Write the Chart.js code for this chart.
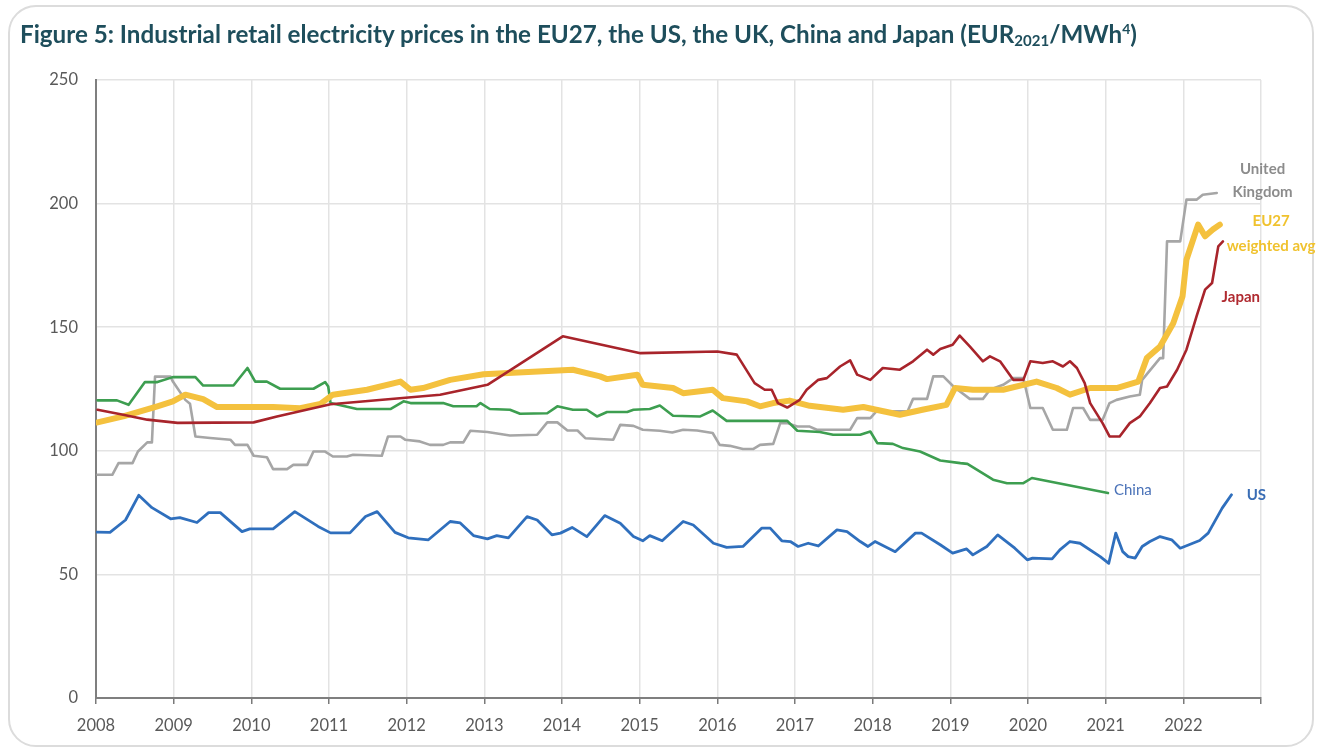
<!DOCTYPE html>
<html>
<head>
<meta charset="utf-8">
<script src="https://cdn.jsdelivr.net/npm/chart.js@4"></script>
<style>
  html, body { margin: 0; padding: 0; background: #fff; }
  body { width: 1319px; height: 752px; position: relative; overflow: hidden; font-family: Lato, "Noto Sans", sans-serif; }
  #card { position: absolute; left: 8px; top: 5px; width: 1306px; height: 742px; border: 2px solid #dcdcdc; border-radius: 28px; box-sizing: border-box; }
  #title { position: absolute; left: 20px; top: 22px; font-size: 24.2px; line-height: 24px; font-weight: 700; color: #1e4e5c; white-space: nowrap; }
  #title sub { font-size: 15px; vertical-align: -3px; line-height: 0; }
  #title sup { font-size: 14px; vertical-align: 9px; line-height: 0; }
  #wrap { position: absolute; left: 0; top: 0; width: 1319px; height: 752px; }
</style>
</head>
<body>
<div id="card"></div>
<div id="wrap"><canvas id="priceChart" width="1319" height="752"></canvas></div>
<div id="title">Figure 5: Industrial retail electricity prices in the EU27, the US, the UK, China and Japan (EUR<sub>2021</sub>/MWh<sup>4</sup>)</div>
<script>
// values, as [year, EUR/MWh]
const yearTicks = [2008, 2009, 2010, 2011, 2012, 2013, 2014, 2015, 2016, 2017, 2018, 2019, 2020, 2021, 2022];

const usPoints = [
  [2008.01, 67.1], [2008.18, 67], [2008.38, 72], [2008.55, 82], [2008.72, 77], [2008.96, 72.5],
  [2009.08, 73], [2009.30, 71], [2009.45, 75], [2009.60, 75], [2009.88, 67.3], [2009.98, 68.4],
  [2010.28, 68.4], [2010.56, 75.4], [2010.86, 69.4], [2011.02, 66.8], [2011.27, 66.8], [2011.47, 73.4],
  [2011.62, 75.4], [2011.85, 67], [2012.02, 64.8], [2012.28, 64], [2012.56, 71.4], [2012.69, 70.8],
  [2012.86, 65.7], [2013.04, 64.4], [2013.16, 65.7], [2013.31, 64.8], [2013.55, 73.4], [2013.68, 72],
  [2013.87, 66], [2013.98, 66.7], [2014.13, 69], [2014.32, 65.3], [2014.55, 73.8], [2014.75, 70.7],
  [2014.92, 65.3], [2015.04, 63.6], [2015.13, 65.7], [2015.29, 63.6], [2015.56, 71.4], [2015.69, 70],
  [2015.95, 62.6], [2016.12, 60.9], [2016.33, 61.3], [2016.57, 68.7], [2016.68, 68.7], [2016.83, 63.6],
  [2016.94, 63.3], [2017.04, 61.3], [2017.17, 62.6], [2017.30, 61.5], [2017.54, 68], [2017.67, 67.3],
  [2017.84, 63.3], [2017.94, 61.3], [2018.03, 63.3], [2018.29, 59.2], [2018.55, 66.7], [2018.63, 66.7],
  [2018.87, 62], [2019.03, 58.6], [2019.21, 60.3], [2019.29, 57.9], [2019.47, 61.3], [2019.61, 66],
  [2019.83, 60.6], [2019.99, 55.9], [2020.06, 56.6], [2020.31, 56.3], [2020.41, 59.9], [2020.54, 63.3],
  [2020.67, 62.6], [2020.93, 57.2], [2021.04, 54.5], [2021.13, 66.7], [2021.22, 59.2], [2021.29, 57.2],
  [2021.38, 56.6], [2021.47, 61.3], [2021.57, 63.3], [2021.70, 65.3], [2021.85, 64], [2021.96, 60.6],
  [2022.21, 63.7], [2022.32, 66.7], [2022.50, 76.8], [2022.62, 82.2]
];

const chinaPoints = [
  [2008.02, 120.4], [2008.27, 120.4], [2008.42, 118.6], [2008.63, 127.8], [2008.79, 127.8], [2008.99, 129.8],
  [2009.28, 129.8], [2009.38, 126.4], [2009.77, 126.4], [2009.95, 133.5], [2010.05, 128], [2010.20, 128],
  [2010.37, 125.1], [2010.80, 125.1], [2010.95, 127.8], [2010.99, 126], [2011.02, 119.3], [2011.36, 116.9],
  [2011.79, 116.9], [2011.96, 120], [2012.05, 119.3], [2012.47, 119.3], [2012.60, 118], [2012.90, 118],
  [2012.95, 119.3], [2013.07, 116.9], [2013.33, 116.6], [2013.46, 115], [2013.81, 115.2], [2013.94, 118],
  [2014.14, 116.6], [2014.32, 116.6], [2014.45, 113.9], [2014.58, 115.7], [2014.84, 115.7], [2014.92, 116.6],
  [2015.13, 116.9], [2015.26, 118.3], [2015.43, 114.2], [2015.78, 113.9], [2015.94, 116.3], [2016.12, 112.1],
  [2016.90, 112.1], [2017.03, 108.1], [2017.32, 107.6], [2017.49, 106.5], [2017.84, 106.5], [2017.97, 107.8],
  [2018.06, 103.1], [2018.26, 102.8], [2018.39, 101.1], [2018.61, 99.7], [2018.87, 96.1], [2019.13, 95],
  [2019.22, 94.7], [2019.55, 88.3], [2019.73, 86.9], [2019.94, 86.9], [2020.05, 89], [2021.03, 82.9]
];

const ukPoints = [
  [2008.02, 90.3], [2008.21, 90.3], [2008.29, 95], [2008.47, 95], [2008.54, 99.7], [2008.66, 103.4],
  [2008.72, 103.4], [2008.76, 130], [2008.96, 130], [2008.99, 128], [2009.15, 120.6], [2009.21, 119],
  [2009.28, 105.8], [2009.47, 105.2], [2009.73, 104.5], [2009.79, 102.4], [2009.95, 102.4], [2010.03, 98],
  [2010.20, 97.4], [2010.28, 92.6], [2010.46, 92.6], [2010.54, 94.3], [2010.72, 94.3], [2010.80, 99.7],
  [2010.95, 99.7], [2011.05, 97.7], [2011.23, 97.7], [2011.31, 98.4], [2011.68, 98], [2011.76, 105.8],
  [2011.92, 105.8], [2011.98, 104.5], [2012.17, 103.8], [2012.30, 102.4], [2012.47, 102.4], [2012.56, 103.4],
  [2012.73, 103.4], [2012.82, 108.1], [2013.04, 107.6], [2013.33, 106.2], [2013.68, 106.5], [2013.81, 111.5],
  [2013.94, 111.5], [2014.07, 108.2], [2014.20, 108.2], [2014.30, 105.1], [2014.66, 104.5], [2014.75, 110.5],
  [2014.92, 110.1], [2015.04, 108.5], [2015.26, 108.1], [2015.42, 107.4], [2015.56, 108.5], [2015.74, 108.2],
  [2015.94, 107.2], [2016.03, 102.4], [2016.16, 102], [2016.33, 100.7], [2016.46, 100.7], [2016.55, 102.4],
  [2016.72, 102.8], [2016.81, 111.2], [2016.90, 111.2], [2017.03, 109.8], [2017.19, 109.8], [2017.28, 108.5],
  [2017.71, 108.5], [2017.80, 113.2], [2017.97, 113.2], [2018.05, 116], [2018.45, 116], [2018.52, 121],
  [2018.70, 121], [2018.78, 130.1], [2018.91, 130.1], [2019.04, 126], [2019.25, 121], [2019.42, 121],
  [2019.51, 124.7], [2019.68, 126.7], [2019.81, 129.4], [2019.94, 129.4], [2020.03, 117.3], [2020.19, 117.3],
  [2020.32, 108.5], [2020.50, 108.5], [2020.58, 117.3], [2020.71, 117.3], [2020.80, 112.5], [2020.96, 112.5],
  [2021.05, 119.3], [2021.14, 120.6], [2021.31, 122], [2021.44, 122.7], [2021.47, 128.7], [2021.70, 137.5],
  [2021.74, 137.5], [2021.79, 184.7], [2021.96, 184.7], [2022.04, 201.6], [2022.17, 201.6], [2022.25, 203.6],
  [2022.43, 204.3]
];

const japanPoints = [
  [2008.02, 116.6], [2008.35, 114.6], [2008.66, 112.6], [2009.05, 111.3], [2010.03, 111.5], [2010.33, 113.9],
  [2011.02, 118.8], [2012.43, 122.7], [2013.04, 126.7], [2014.01, 146.3], [2015.01, 139.5], [2016.00, 140.2],
  [2016.25, 138.9], [2016.48, 127.4], [2016.61, 124.7], [2016.70, 124.7], [2016.78, 119.3], [2016.90, 117.5],
  [2017.06, 120.6], [2017.15, 124.7], [2017.30, 128.7], [2017.41, 129.4], [2017.58, 134.1], [2017.71, 136.6],
  [2017.80, 130.8], [2017.97, 128.7], [2018.13, 133.5], [2018.35, 132.8], [2018.52, 136.2], [2018.70, 140.9],
  [2018.78, 138.9], [2018.87, 141.2], [2019.03, 142.9], [2019.12, 146.6], [2019.25, 142.2], [2019.42, 136.2],
  [2019.51, 138.2], [2019.64, 136.2], [2019.81, 128.7], [2019.94, 128.7], [2020.03, 136.2], [2020.19, 135.5],
  [2020.32, 136.2], [2020.45, 134.1], [2020.54, 136.2], [2020.63, 133.5], [2020.73, 127.4], [2020.80, 119.3],
  [2020.96, 111.2], [2021.05, 105.8], [2021.18, 105.8], [2021.31, 111.2], [2021.44, 113.9], [2021.57, 119.3],
  [2021.70, 125.4], [2021.79, 126], [2021.92, 132.8], [2022.04, 140.9], [2022.17, 154.4], [2022.28, 165.2],
  [2022.37, 167.9], [2022.45, 182.7], [2022.51, 184.7]
];

const eu27Points = [
  [2008.02, 111.5], [2008.35, 113.9], [2008.79, 118], [2008.99, 120], [2009.15, 122.7], [2009.38, 120.9],
  [2009.56, 117.7], [2010.28, 117.7], [2010.63, 117.2], [2010.89, 119], [2011.05, 122.7], [2011.49, 124.7],
  [2011.92, 128], [2012.05, 124.7], [2012.21, 125.4], [2012.56, 128.7], [2012.99, 131], [2014.14, 132.8],
  [2014.49, 130.1], [2014.58, 129], [2014.97, 130.8], [2015.04, 126.7], [2015.43, 125.4], [2015.56, 123.3],
  [2015.94, 124.7], [2016.07, 121.3], [2016.38, 120], [2016.55, 118], [2016.72, 119.3], [2016.93, 120.3],
  [2017.19, 118.2], [2017.62, 116.6], [2017.88, 117.7], [2018.35, 114.6], [2018.64, 116.6], [2018.95, 118.6],
  [2019.06, 125.4], [2019.29, 124.7], [2019.68, 124.7], [2020.11, 128], [2020.37, 125.4], [2020.54, 122.7],
  [2020.80, 125.4], [2021.14, 125.4], [2021.42, 128], [2021.53, 137.5], [2021.70, 142.2], [2021.87, 151.6],
  [2021.99, 162.5], [2022.04, 177.3], [2022.19, 191.5], [2022.28, 186.8], [2022.38, 189.5], [2022.47, 191.5]
];

// series names written next to the lines, placed in chart units
const seriesLabels = [
  { text: "United", x: 2023.02, y: 213.8, color: "#8c8c8c", weight: "bold" },
  { text: "Kingdom", x: 2023.02, y: 204.5, color: "#8c8c8c", weight: "bold" },
  { text: "EU27", x: 2023.13, y: 192.7, color: "#f0c22e", weight: "bold" },
  { text: "weighted avg", x: 2023.13, y: 182.6, color: "#f0c22e", weight: "bold" },
  { text: "Japan", x: 2022.74, y: 162.3, color: "#b02a30", weight: "bold" },
  { text: "China", x: 2021.35, y: 84.2, color: "#4a72b8", weight: "normal" },
  { text: "US", x: 2022.94, y: 82.2, color: "#3a6db5", weight: "bold" }
];

const toXY = (pts) => pts.map((p) => ({ x: p[0], y: p[1] }));

const labelPlugin = {
  id: "seriesLabels",
  afterDatasetsDraw(chart) {
    const ctx = chart.ctx;
    const xs = chart.scales.x;
    const ys = chart.scales.y;
    ctx.save();
    ctx.textAlign = "center";
    ctx.textBaseline = "middle";
    seriesLabels.forEach((l) => {
      ctx.font = l.weight + " 15px Lato, 'Noto Sans', sans-serif";
      ctx.fillStyle = l.color;
      ctx.fillText(l.text, xs.getPixelForValue(l.x), ys.getPixelForValue(l.y));
    });
    ctx.restore();
  },
};

const line = (label, pts, color, width) => ({
  label: label,
  data: toXY(pts),
  borderColor: color,
  backgroundColor: color,
  borderWidth: width,
  pointRadius: 0,
  tension: 0,
  fill: false,
  borderJoinStyle: "round",
  borderCapStyle: "round",
});

new Chart(document.getElementById("priceChart"), {
  type: "line",
  data: {
    datasets: [
      line("Japan", japanPoints, "#a8242b", 2.6),
      line("EU27 weighted avg", eu27Points, "#f4c13e", 6),
      line("US", usPoints, "#2f6fbd", 2.8),
      line("China", chinaPoints, "#3d9e50", 2.6),
      line("United Kingdom", ukPoints, "#a6a6a6", 2.6),
    ],
  },
  options: {
    responsive: false,
    animation: false,
    layout: { padding: { top: 80, right: 58, left: 0, bottom: 0 } },
    plugins: {
      legend: { display: false },
      tooltip: { enabled: false },
      title: { display: false },
    },
    scales: {
      x: {
        type: "linear",
        min: 2008,
        max: 2023,
        afterBuildTicks: (scale) => {
          scale.ticks = yearTicks.concat([2023]).map((v) => ({ value: v }));
        },
        afterFit: (scale) => { scale.height = 54; },
        ticks: {
          autoSkip: false,
          color: "#595959",
          font: { size: 16.5, family: "Lato, 'Noto Sans', sans-serif" },
          padding: 12,
          maxRotation: 0,
          callback: (v) => (yearTicks.includes(v) ? String(v) : ""),
        },
        grid: { color: "#e3e3e3", lineWidth: 1.5, tickColor: "#7a7a7a", tickLength: 6, tickWidth: 1.5 },
        border: { color: "#7f7f7f", width: 2 },
      },
      y: {
        min: 0,
        max: 250,
        afterFit: (scale) => { scale.width = 96; },
        ticks: {
          stepSize: 50,
          color: "#595959",
          font: { size: 16.5, family: "Lato, 'Noto Sans', sans-serif" },
          padding: 18,
        },
        grid: { color: "#e3e3e3", lineWidth: 1.5, drawTicks: false },
        border: { color: "#7f7f7f", width: 2 },
      },
    },
  },
  plugins: [labelPlugin],
});
</script>
</body>
</html>
